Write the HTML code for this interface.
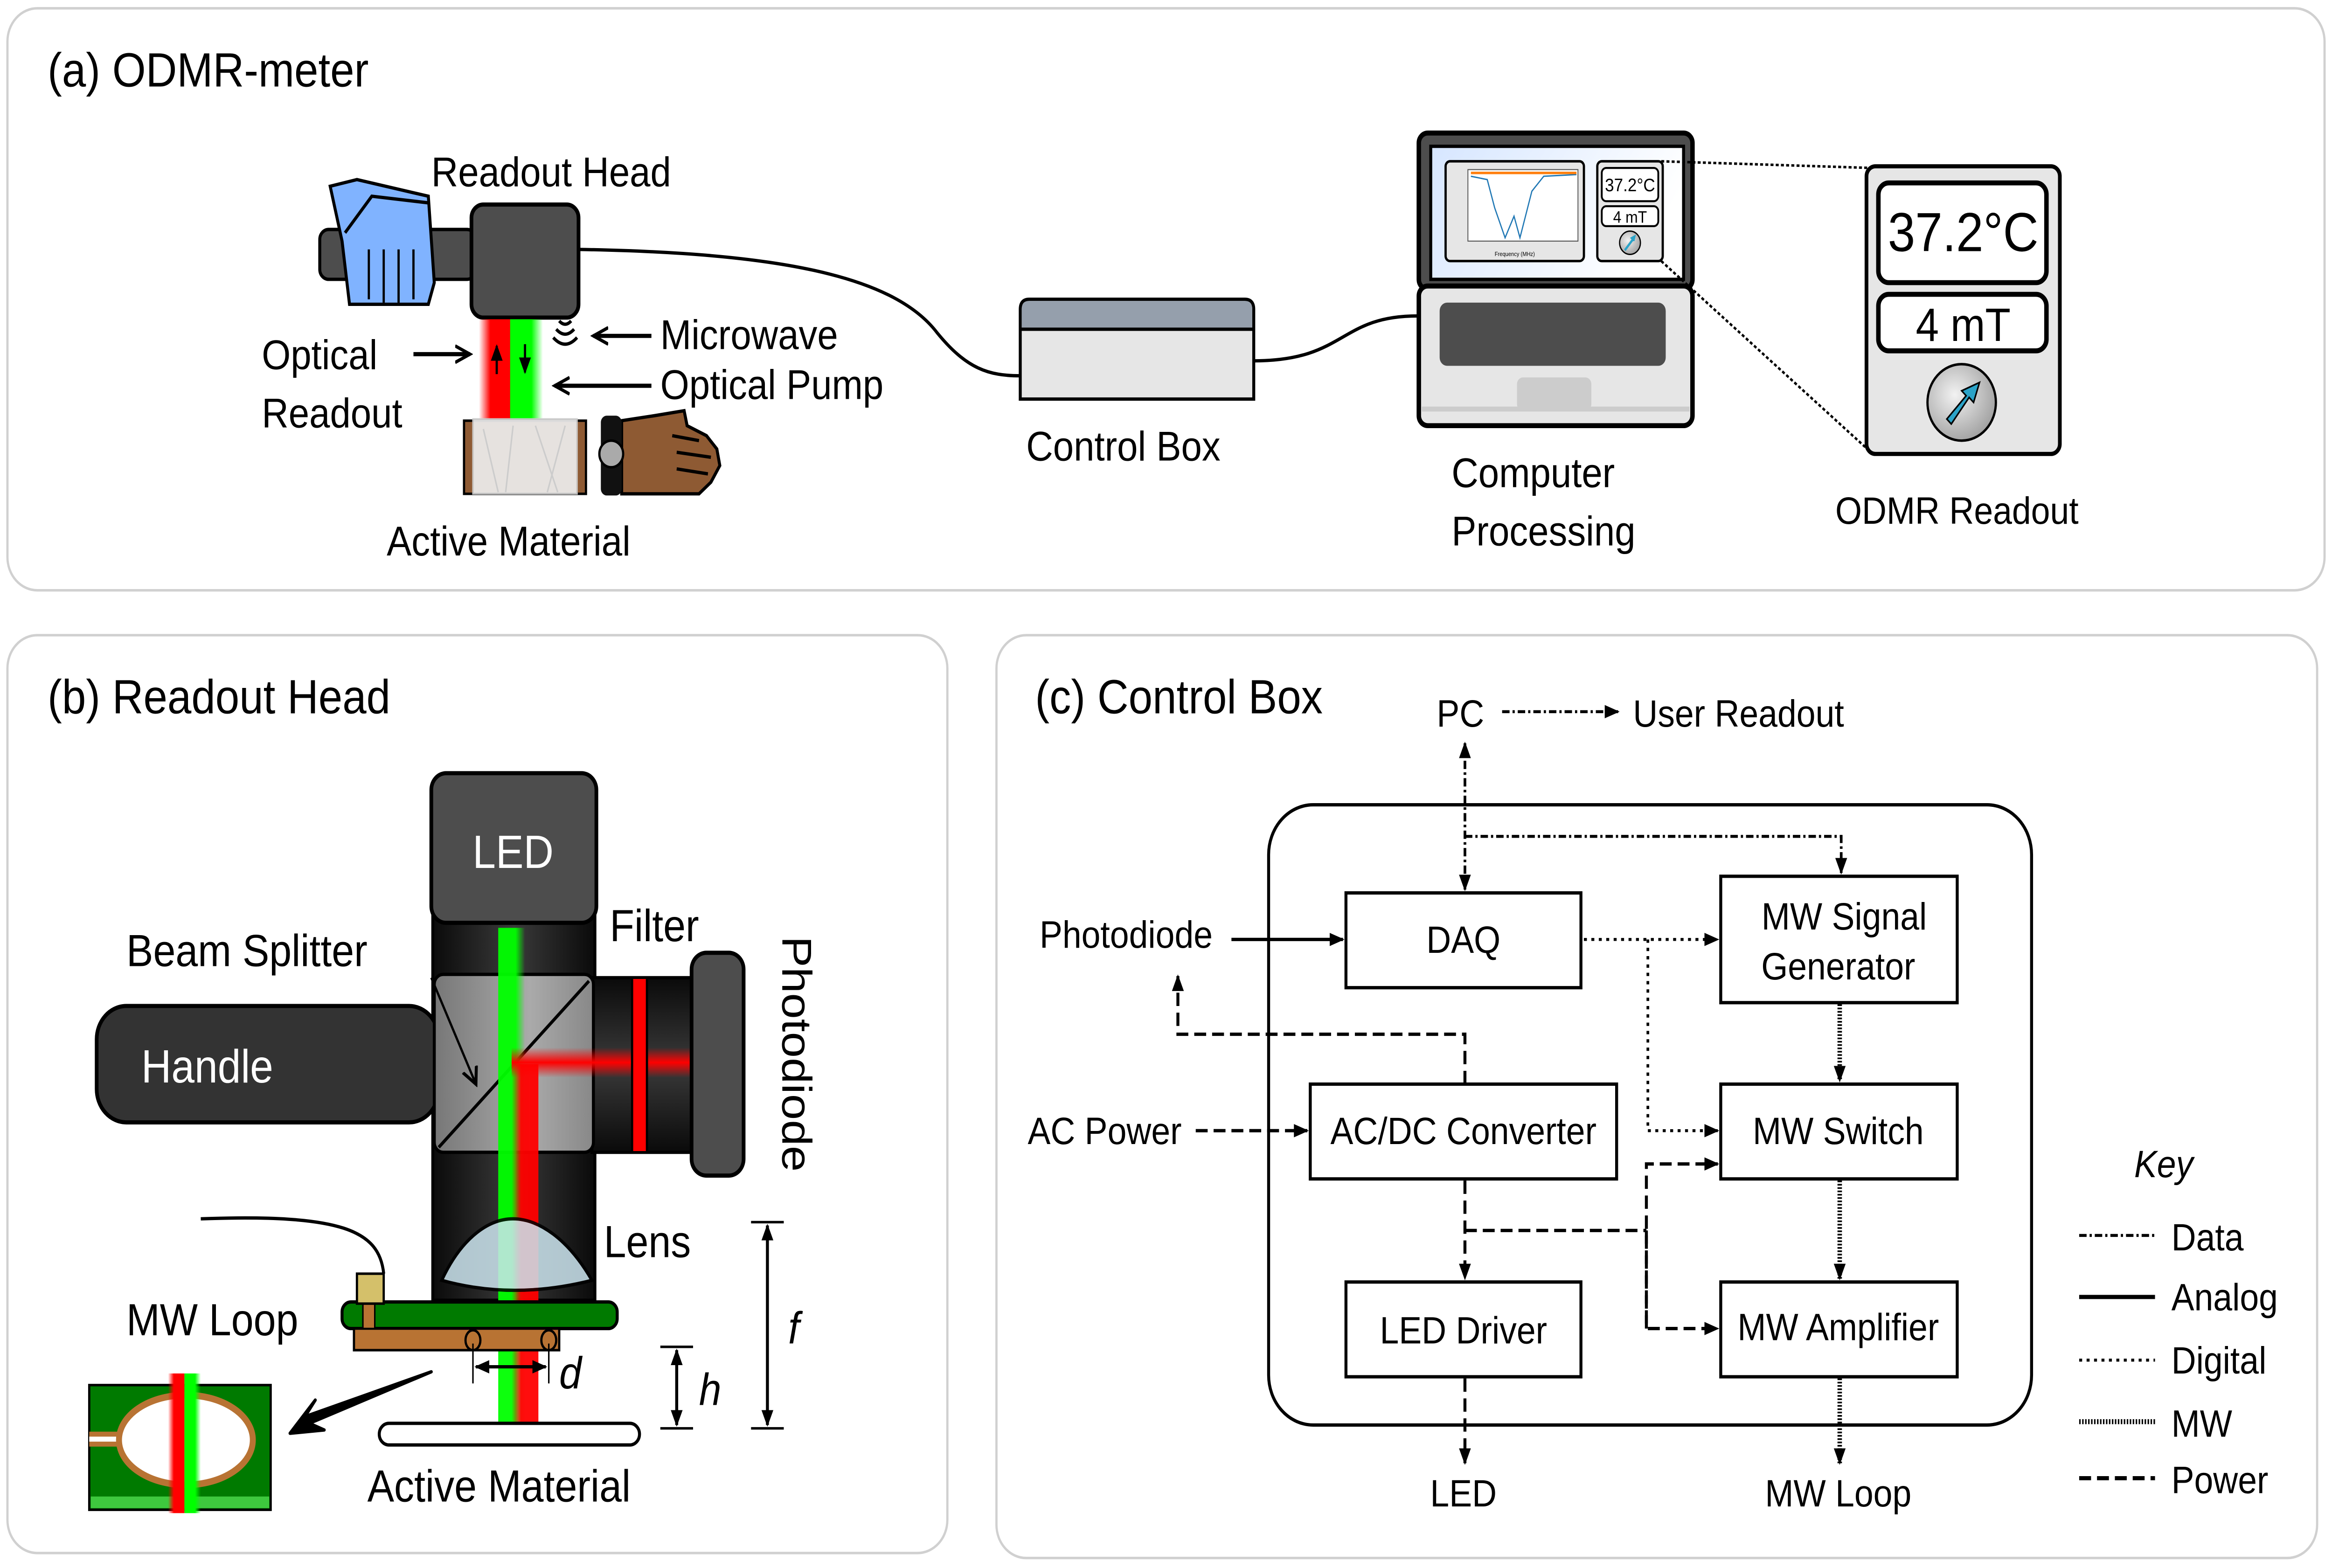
<!DOCTYPE html>
<html><head><meta charset="utf-8"><style>
html,body{margin:0;padding:0;background:#fff;overflow:hidden;width:100vw;height:100vh}
svg{display:block;width:100vw;height:100vh}
text{font-family:"Liberation Sans",sans-serif;fill:#000}
</style></head><body>
<svg viewBox="0 0 1568 943" preserveAspectRatio="none" xmlns="http://www.w3.org/2000/svg">
<defs>
<linearGradient id="tube" x1="0" x2="1" y1="0" y2="0"><stop offset="0" stop-color="#0a0a0a"/><stop offset="0.5" stop-color="#3a3a3a"/><stop offset="1" stop-color="#0a0a0a"/></linearGradient>
<linearGradient id="tubeh" x1="0" x2="0" y1="0" y2="1"><stop offset="0" stop-color="#0a0a0a"/><stop offset="0.5" stop-color="#3a3a3a"/><stop offset="1" stop-color="#0a0a0a"/></linearGradient>
<linearGradient id="cube" x1="0" x2="1" y1="0" y2="0"><stop offset="0" stop-color="#777"/><stop offset="0.6" stop-color="#aaa"/><stop offset="1" stop-color="#888"/></linearGradient>
<linearGradient id="scr" x1="0" x2="1" y1="0" y2="0.3"><stop offset="0" stop-color="#d6e6ff"/><stop offset="1" stop-color="#ffffff"/></linearGradient>
<linearGradient id="rb" x1="0" x2="1"><stop offset="0" stop-color="#f00" stop-opacity="0"/><stop offset="0.35" stop-color="#f00"/><stop offset="1" stop-color="#f00"/></linearGradient>
<linearGradient id="gb" x1="0" x2="1"><stop offset="0" stop-color="#0f0"/><stop offset="0.65" stop-color="#0f0"/><stop offset="1" stop-color="#0f0" stop-opacity="0"/></linearGradient>
<linearGradient id="rbh" x1="0" x2="0" y1="0" y2="1"><stop offset="0" stop-color="#f00" stop-opacity="0"/><stop offset="0.5" stop-color="#f00"/><stop offset="1" stop-color="#f00" stop-opacity="0"/></linearGradient>
<radialGradient id="knob" cx="0.4" cy="0.4" r="0.7"><stop offset="0" stop-color="#f2f2f2"/><stop offset="1" stop-color="#999"/></radialGradient>
<marker id="ah" markerWidth="10" markerHeight="10" refX="9" refY="5" orient="auto" markerUnits="userSpaceOnUse"><path d="M0,1 L10,5 L0,9 Z" fill="#000"/></marker>
<marker id="ahs" markerWidth="10" markerHeight="10" refX="1" refY="5" orient="auto" markerUnits="userSpaceOnUse"><path d="M10,1 L0,5 L10,9 Z" fill="#000"/></marker>
<marker id="ao" markerWidth="12" markerHeight="12" refX="10" refY="6" orient="auto" markerUnits="userSpaceOnUse"><path d="M0,1 L10,6 L0,11" fill="none" stroke="#000" stroke-width="2"/></marker>
</defs>

<rect x="5" y="5" width="1558" height="350" rx="20" fill="#fff" stroke="#d0d0d0" stroke-width="1.5"/>
<rect x="5" y="382" width="632" height="552" rx="20" fill="#fff" stroke="#d0d0d0" stroke-width="1.5"/>
<rect x="670" y="382" width="888" height="555" rx="20" fill="#fff" stroke="#d0d0d0" stroke-width="1.5"/>

<!-- ===== Panel a ===== -->
<text x="32" y="52" font-size="29">(a) ODMR-meter</text>
<text x="290" y="112" font-size="25">Readout Head</text>
<rect x="215" y="138" width="105" height="30" rx="6" fill="#4d4d4d" stroke="#000" stroke-width="2"/>
<path d="M222,112 L240,108 L288,118 L292,170 L288,183 L235,183 L230,145 Z" fill="#80b3ff" stroke="#000" stroke-width="2"/>
<path d="M232,140 L250,118 L288,122" fill="none" stroke="#000" stroke-width="2"/>
<path d="M248,150 V180 M258,150 V182 M268,150 V182 M278,150 V180" stroke="#000" stroke-width="1.5"/>
<rect x="317" y="123" width="72" height="68" rx="8" fill="#4d4d4d" stroke="#000" stroke-width="2.5"/>
<rect x="322" y="192" width="22" height="76" fill="url(#rb)"/>
<rect x="343" y="192" width="22" height="76" fill="url(#gb)"/>
<line x1="334" y1="225" x2="334" y2="208" stroke="#000" stroke-width="1.5" marker-end="url(#ah)"/>
<line x1="353" y1="207" x2="353" y2="224" stroke="#000" stroke-width="1.5" marker-end="url(#ah)"/>
<text x="176" y="222" font-size="25">Optical</text>
<text x="176" y="257" font-size="25">Readout</text>
<line x1="278" y1="213" x2="316" y2="213" stroke="#000" stroke-width="2.5" marker-end="url(#ao)"/>
<path d="M374,198 Q380,204 386,198 M372,203 Q380,211 388,203 M376,193 Q380,197 384,193" fill="none" stroke="#000" stroke-width="2"/>
<line x1="438" y1="202" x2="399" y2="202" stroke="#000" stroke-width="2.5" marker-end="url(#ao)"/>
<text x="444" y="210" font-size="25">Microwave</text>
<line x1="438" y1="232" x2="373" y2="232" stroke="#000" stroke-width="2.5" marker-end="url(#ao)"/>
<text x="444" y="240" font-size="25">Optical Pump</text>
<rect x="312" y="253" width="82" height="44" fill="#8e5a33" stroke="#000" stroke-width="1.5"/>
<rect x="318" y="252" width="70" height="45" fill="#eeeeee" opacity="0.92" stroke="#ccc"/>
<path d="M325,258 L335,296 M345,256 L340,296 M360,256 L375,296 M380,256 L368,296" stroke="#ccc" stroke-width="1"/>
<path d="M418,253 L440,250 L460,247 L462,256 L475,262 L482,270 L484,280 L478,290 L470,297 L418,297 Z" fill="#8e5a33" stroke="#000" stroke-width="2"/>
<path d="M452,262 L470,265 M455,272 L478,275 M455,282 L476,285" stroke="#000" stroke-width="2"/>
<rect x="404" y="250" width="14" height="48" rx="4" fill="#111"/>
<circle cx="411" cy="273" r="8" fill="#aaa" stroke="#000" stroke-width="1.5"/>
<text x="260" y="334" font-size="25">Active Material</text>
<path d="M389,150 C520,152 600,165 630,200 C650,222 665,226 686,226" fill="none" stroke="#000" stroke-width="2"/>
<path d="M843,217 C905,217 900,190 953,190" fill="none" stroke="#000" stroke-width="2"/>
<path d="M686,240 V186 Q686,180 692,180 H837 Q843,180 843,186 V240 Z" fill="#e6e6e6" stroke="#000" stroke-width="2"/>
<path d="M687,198 V186 Q687,181 692,181 H837 Q842,181 842,186 V198 Z" fill="#959fac"/>
<line x1="686" y1="198" x2="843" y2="198" stroke="#000" stroke-width="2"/>
<text x="690" y="277" font-size="25">Control Box</text>
<rect x="954" y="80" width="184" height="94" rx="6" fill="#4d4d4d" stroke="#000" stroke-width="3"/>
<rect x="962" y="88" width="170" height="80" fill="url(#scr)" stroke="#000" stroke-width="2"/>
<rect x="972" y="97" width="93" height="60" rx="3" fill="#e6e6e6" stroke="#000" stroke-width="1.5"/>
<rect x="987" y="102" width="74" height="43" fill="#fff" stroke="#555" stroke-width="0.6"/>
<polyline points="989,106 1000,108 1005,125 1012,143 1018,130 1022,143 1030,115 1038,106 1060,105" fill="none" stroke="#1f77b4" stroke-width="0.8"/>
<line x1="989" y1="104" x2="1060" y2="104" stroke="#ff7f0e" stroke-width="1.5"/>
<text x="1005" y="154" font-size="3.5" fill="#333">Frequency (MHz)</text>
<rect x="1074" y="97" width="44" height="60" rx="3" fill="#e6e6e6" stroke="#000" stroke-width="1.5"/>
<rect x="1077" y="101" width="38" height="20" rx="3" fill="#fff" stroke="#000" stroke-width="1.2"/>
<text x="1096" y="115" font-size="11" text-anchor="middle">37.2°C</text>
<rect x="1077" y="124" width="38" height="12" rx="3" fill="#fff" stroke="#000" stroke-width="1.2"/>
<text x="1096" y="134" font-size="10" text-anchor="middle">4 mT</text>
<circle cx="1096" cy="146" r="7" fill="url(#knob)" stroke="#000" stroke-width="0.8"/>
<path d="M1092,150 L1097,144 L1096,143 L1100,141 L1099,145 L1098,145 L1093,151 Z" fill="#2ba3c8"/>
<rect x="954" y="172" width="184" height="84" rx="6" fill="#e6e6e6" stroke="#000" stroke-width="3"/>
<line x1="956" y1="246" x2="1136" y2="246" stroke="#ccc" stroke-width="3"/>
<rect x="968" y="182" width="152" height="38" rx="5" fill="#4d4d4d"/>
<rect x="1020" y="227" width="50" height="20" rx="4" fill="#ccc"/>
<text x="976" y="293" font-size="25">Computer</text>
<text x="976" y="328" font-size="25">Processing</text>
<line x1="1117" y1="97" x2="1258" y2="101" stroke="#000" stroke-width="1.5" stroke-dasharray="2,1.5"/>
<line x1="1117" y1="157" x2="1258" y2="272" stroke="#000" stroke-width="1.5" stroke-dasharray="2,1.5"/>
<rect x="1255" y="100" width="130" height="173" rx="6" fill="#e6e6e6" stroke="#000" stroke-width="2.5"/>
<rect x="1263" y="110" width="113" height="60" rx="7" fill="#fff" stroke="#000" stroke-width="3"/>
<text x="1320" y="151" font-size="33" text-anchor="middle">37.2°C</text>
<rect x="1263" y="177" width="113" height="34" rx="7" fill="#fff" stroke="#000" stroke-width="3"/>
<text x="1320" y="205" font-size="28" text-anchor="middle">4 mT</text>
<circle cx="1319" cy="242" r="23" fill="url(#knob)" stroke="#000" stroke-width="1.5"/>
<path d="M1309,252 L1322,238 L1319,235 L1331,230 L1327,242 L1324,239 L1312,255 Z" fill="#2ba3c8" stroke="#000" stroke-width="1"/>
<text x="1234" y="315" font-size="23">ODMR Readout</text>

<!-- ===== Panel b ===== -->
<text x="32" y="429" font-size="29">(b) Readout Head</text>
<rect x="291" y="550" width="109" height="232" fill="url(#tube)" stroke="#000" stroke-width="2"/>
<rect x="398" y="588" width="70" height="105" fill="url(#tubeh)" stroke="#000" stroke-width="2"/>
<rect x="65" y="605" width="230" height="70" rx="20" fill="#333" stroke="#000" stroke-width="2.5"/>
<text x="95" y="651" font-size="28" style="fill:#fff">Handle</text>
<rect x="292" y="586" width="107" height="107" rx="6" fill="url(#cube)" stroke="#000" stroke-width="2"/>
<line x1="295" y1="690" x2="396" y2="590" stroke="#000" stroke-width="2"/>
<rect x="335" y="558" width="18" height="300" fill="url(#gb)" opacity="0.95"/>
<rect x="344" y="640" width="18" height="218" fill="url(#rb)" opacity="0.95"/>
<rect x="344" y="630" width="122" height="18" fill="url(#rbh)"/>
<rect x="425" y="588" width="10" height="105" fill="#f00" stroke="#000" stroke-width="1.5"/>
<rect x="465" y="573" width="35" height="134" rx="10" fill="#4d4d4d" stroke="#000" stroke-width="2.5"/>
<rect x="290" y="465" width="111" height="90" rx="10" fill="#4d4d4d" stroke="#000" stroke-width="2.5"/>
<text x="345" y="522" font-size="28" text-anchor="middle" style="fill:#fff">LED</text>
<text x="0" y="0" font-size="28" transform="translate(526,563) rotate(90)">Photodiode</text>
<text x="85" y="581" font-size="27">Beam Splitter</text>
<line x1="290" y1="588" x2="320" y2="652" stroke="#000" stroke-width="1.5" marker-end="url(#ao)"/>
<text x="410" y="566" font-size="27">Filter</text>
<path d="M297,770 C310,745 328,733 345,733 C362,733 382,745 398,770 Q345,782 297,770 Z" fill="#cde6f0" opacity="0.85" stroke="#000" stroke-width="2"/>
<text x="406" y="756" font-size="27">Lens</text>
<path d="M258,766 C255,740 230,730 135,733" fill="none" stroke="#000" stroke-width="2"/>
<rect x="230" y="783" width="185" height="16" rx="6" fill="#007a00" stroke="#000" stroke-width="2"/>
<rect x="238" y="799" width="138" height="13" fill="#b87333" stroke="#000" stroke-width="1.5"/>
<rect x="244" y="784" width="8" height="15" fill="#b87333" stroke="#000" stroke-width="1"/>
<rect x="240" y="766" width="18" height="18" fill="#d4c06a" stroke="#000" stroke-width="1.5"/>
<ellipse cx="318" cy="806" rx="5" ry="6" fill="#b87333" stroke="#000" stroke-width="1.5"/>
<ellipse cx="369" cy="806" rx="5" ry="6" fill="#b87333" stroke="#000" stroke-width="1.5"/>
<text x="85" y="803" font-size="27">MW Loop</text>
<line x1="318" y1="808" x2="318" y2="832" stroke="#000" stroke-width="1"/>
<line x1="369" y1="808" x2="369" y2="832" stroke="#000" stroke-width="1"/>
<line x1="320" y1="822" x2="367" y2="822" stroke="#000" stroke-width="2" marker-end="url(#ah)" marker-start="url(#ahs)"/>
<text x="376" y="835" font-size="27" font-style="italic">d</text>
<rect x="255" y="856" width="175" height="13" rx="6.5" fill="#fff" stroke="#000" stroke-width="2"/>
<text x="247" y="903" font-size="27">Active Material</text>
<line x1="444" y1="810" x2="466" y2="810" stroke="#000" stroke-width="1.5"/>
<line x1="444" y1="859" x2="466" y2="859" stroke="#000" stroke-width="1.5"/>
<line x1="455" y1="812" x2="455" y2="857" stroke="#000" stroke-width="2" marker-end="url(#ah)" marker-start="url(#ahs)"/>
<text x="470" y="845" font-size="27" font-style="italic">h</text>
<line x1="505" y1="735" x2="527" y2="735" stroke="#000" stroke-width="1.5"/>
<line x1="505" y1="859" x2="527" y2="859" stroke="#000" stroke-width="1.5"/>
<line x1="516" y1="737" x2="516" y2="857" stroke="#000" stroke-width="2" marker-end="url(#ah)" marker-start="url(#ahs)"/>
<text x="530" y="808" font-size="27" font-style="italic">f</text>
<rect x="60" y="833" width="122" height="75" fill="#007a00" stroke="#000" stroke-width="1.5"/>
<rect x="61" y="900" width="120" height="7" fill="#3ec83e"/>
<rect x="60" y="861" width="30" height="9" fill="#b87333"/>
<rect x="60" y="864" width="30" height="3" fill="#fff"/>
<ellipse cx="125" cy="866" rx="45" ry="27" fill="#fff" stroke="#b87333" stroke-width="4"/>
<rect x="113" y="826" width="11" height="84" fill="url(#rb)"/>
<rect x="124" y="826" width="11" height="84" fill="url(#gb)"/>
<path d="M290,825 L205,852 L212,842 L195,862 L218,860 L208,856 Z" fill="#000" stroke="#000" stroke-width="2" stroke-linejoin="round"/>

<!-- ===== Panel c ===== -->
<text x="696" y="429" font-size="29">(c) Control Box</text>
<g font-size="23">
<text x="966" y="437">PC</text>
<text x="1098" y="437">User Readout</text>
<text x="699" y="570">Photodiode</text>
<text x="691" y="688">AC Power</text>
<text x="984" y="906" text-anchor="middle">LED</text>
<text x="1236" y="906" text-anchor="middle">MW Loop</text>
</g>
<rect x="853" y="484" width="513" height="373" rx="30" fill="none" stroke="#000" stroke-width="2"/>
<g fill="#fff" stroke="#000" stroke-width="2">
<rect x="905" y="537" width="158" height="57"/>
<rect x="1157" y="527" width="159" height="76"/>
<rect x="1157" y="652" width="159" height="57"/>
<rect x="1157" y="771" width="159" height="57"/>
<rect x="881" y="652" width="206" height="57"/>
<rect x="905" y="771" width="158" height="57"/>
</g>
<g font-size="23" text-anchor="middle">
<text x="984" y="573">DAQ</text>
<text x="1240" y="559">MW Signal</text>
<text x="1236" y="589">Generator</text>
<text x="1236" y="688">MW Switch</text>
<text x="1236" y="806">MW Amplifier</text>
<text x="984" y="688">AC/DC Converter</text>
<text x="984" y="808">LED Driver</text>
</g>
<g fill="none" stroke="#000" stroke-width="1.8" stroke-dasharray="5,2,1.5,2">
<line x1="1010" y1="428" x2="1088" y2="428" marker-end="url(#ah)"/>
<line x1="985" y1="447" x2="985" y2="535" marker-end="url(#ah)" marker-start="url(#ahs)"/>
<polyline points="985,503 1238,503 1238,525" marker-end="url(#ah)"/>
</g>
<line x1="828" y1="565" x2="903" y2="565" stroke="#000" stroke-width="2" marker-end="url(#ah)"/>
<g fill="none" stroke="#000" stroke-width="1.8" stroke-dasharray="2,3">
<line x1="1065" y1="565" x2="1155" y2="565" marker-end="url(#ah)"/>
<polyline points="1108,565 1108,680 1155,680" marker-end="url(#ah)"/>
</g>
<g fill="none" stroke="#000" stroke-width="3" stroke-dasharray="1,1">
<line x1="1237" y1="604" x2="1237" y2="650" marker-end="url(#ah)"/>
<line x1="1237" y1="710" x2="1237" y2="769" marker-end="url(#ah)"/>
<line x1="1237" y1="829" x2="1237" y2="880" marker-end="url(#ah)"/>
</g>
<g fill="none" stroke="#000" stroke-width="2" stroke-dasharray="8,4">
<line x1="804" y1="680" x2="879" y2="680" marker-end="url(#ah)"/>
<polyline points="985,652 985,622 792,622 792,587" marker-end="url(#ah)"/>
<line x1="985" y1="710" x2="985" y2="769" marker-end="url(#ah)"/>
<polyline points="985,740 1107,740"/>
<polyline points="1107,799 1107,700 1155,700" marker-end="url(#ah)"/>
<polyline points="1107,740 1107,799 1155,799" marker-end="url(#ah)"/>
<line x1="985" y1="829" x2="985" y2="880" marker-end="url(#ah)"/>
</g>
<text x="1435" y="708" font-size="23" font-style="italic">Key</text>
<g font-size="23">
<text x="1460" y="752">Data</text>
<text x="1460" y="788">Analog</text>
<text x="1460" y="826">Digital</text>
<text x="1460" y="864">MW</text>
<text x="1460" y="898">Power</text>
</g>
<line x1="1398" y1="743" x2="1449" y2="743" stroke="#000" stroke-width="1.8" stroke-dasharray="5,2,1.5,2"/>
<line x1="1398" y1="780" x2="1449" y2="780" stroke="#000" stroke-width="2.5"/>
<line x1="1398" y1="818" x2="1449" y2="818" stroke="#000" stroke-width="1.8" stroke-dasharray="2,3"/>
<line x1="1398" y1="855" x2="1449" y2="855" stroke="#000" stroke-width="3" stroke-dasharray="1,1"/>
<line x1="1398" y1="889" x2="1449" y2="889" stroke="#000" stroke-width="2.5" stroke-dasharray="8,4"/>
</svg>
</body></html>
